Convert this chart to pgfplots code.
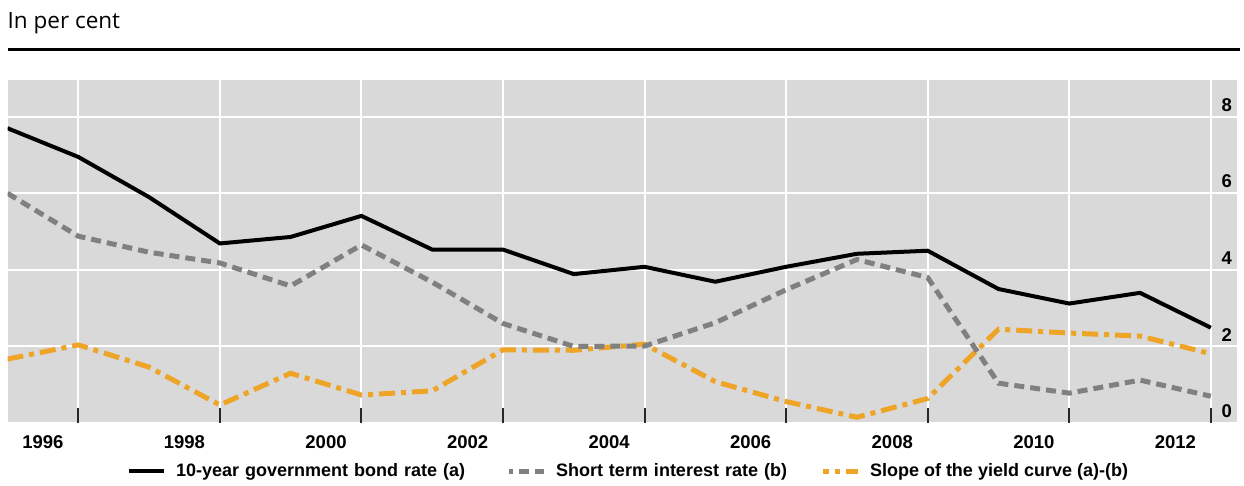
\documentclass[border=0pt]{standalone}
\usepackage{fontspec}
\setmainfont{Liberation Sans}
\newfontfamily\headfont{Open Sans}
\usepackage{pgfplots}
\usepackage{pgfplotstable}
\pgfplotsset{compat=1.18}

\definecolor{panelgrey}{RGB}{217,217,217}
\definecolor{shortgrey}{RGB}{128,128,128}
\definecolor{slopeorange}{RGB}{238,164,38}
\definecolor{tickdark}{RGB}{40,40,40}

% year, 10-year bond rate (a), short term rate (b), slope (a)-(b)
\pgfplotstableread{
year  bond  short  slope
1995  7.70  6.00   1.67
1996  6.95  4.88   2.04
1997  5.90  4.46   1.46
1998  4.69  4.18   0.47
1999  4.86  3.58   1.30
2000  5.41  4.65   0.73
2001  4.53  3.68   0.84
2002  4.53  2.60   1.91
2003  3.89  2.00   1.90
2004  4.08  2.01   2.06
2005  3.69  2.62   1.08
2006  4.08  3.48   0.56
2007  4.42  4.27   0.15
2008  4.50  3.80   0.64
2009  3.50  1.04   2.45
2010  3.12  0.78   2.35
2011  3.40  1.12   2.27
2012  2.49  0.70   1.81
}\rates

\begin{document}
\begin{tikzpicture}
\useasboundingbox (0,0) rectangle (1244pt,486pt);

% header and rule
\node[anchor=base west, inner sep=0pt, font=\headfont\fontsize{22.5}{24}\selectfont]
  at (7.5pt,457.7pt) {In per cent};
\draw[line width=3pt] (8pt,436pt) -- (1240pt,436pt);

\begin{axis}[
  at={(7.5pt,63pt)}, anchor=south west,
  scale only axis,
  width=1229.5pt, height=343pt,
  xmin=1995, xmax=2012.37,
  ymin=0, ymax=8.96,
  axis background/.style={fill=panelgrey},
  axis line style={draw=none},
  grid=major,
  grid style={white, line width=2pt},
  xtick={1996,1998,...,2012},
  xticklabels={1996,1998,2000,2002,2004,2006,2008,2010,2012},
  xtick pos=left,
  tick align=inside,
  major tick length=15pt,
  xtick style={line width=2pt, color=tickdark},
  xticklabel style={anchor=north, inner sep=0pt, yshift=-12pt, xshift=-35.4pt},
  ytick={0,2,4,6,8},
  yticklabels={0,2,4,6,8},
  yticklabel pos=right,
  ytick style={draw=none},
  yticklabel style={anchor=south east, inner sep=0pt, xshift=-5pt, yshift=5pt},
  ticklabel style={font=\fontsize{18.5}{18.5}\selectfont\bfseries},
  /pgf/number format/assume math mode=true,
  legend columns=3,
  legend style={
    at={(0.0972,-0.140)}, anchor=west,
    draw=none, fill=none, inner sep=0pt, outer sep=0pt,
    font=\fontsize{18}{18}\selectfont\bfseries,
    nodes={inner sep=0pt, anchor=west},
    /tikz/every odd column/.append style={column sep=10pt},
    /tikz/every even column/.append style={column sep=0pt},
  },
  legend image code/.code={\draw[#1] (0pt,0pt) -- (35pt,0pt);},
]
\addplot[slopeorange, line width=5pt, dash pattern=on 16pt off 6pt on 5pt off 6pt, forget plot]
  table[x=year, y=slope] {\rates};
\addplot[shortgrey, line width=5pt, dash pattern=on 10pt off 6pt, forget plot]
  table[x=year, y=short] {\rates};
\addplot[black, line width=4pt, forget plot]
  table[x=year, y=bond] {\rates};

\addlegendimage{black, line width=4pt}
\addlegendentry[text width=330pt]{10-year government bond rate (a)}
\addlegendimage{shortgrey, line width=5pt, dash pattern=on 10pt off 6pt, dash phase=6pt}
\addlegendentry[text width=264pt]{Short term interest rate (b)}
\addlegendimage{slopeorange, line width=5pt, dash pattern=on 6pt off 6pt on 5pt off 6pt on 20pt}
\addlegendentry{Slope of the yield curve (a)-(b)}
\end{axis}
\end{tikzpicture}
\end{document}
